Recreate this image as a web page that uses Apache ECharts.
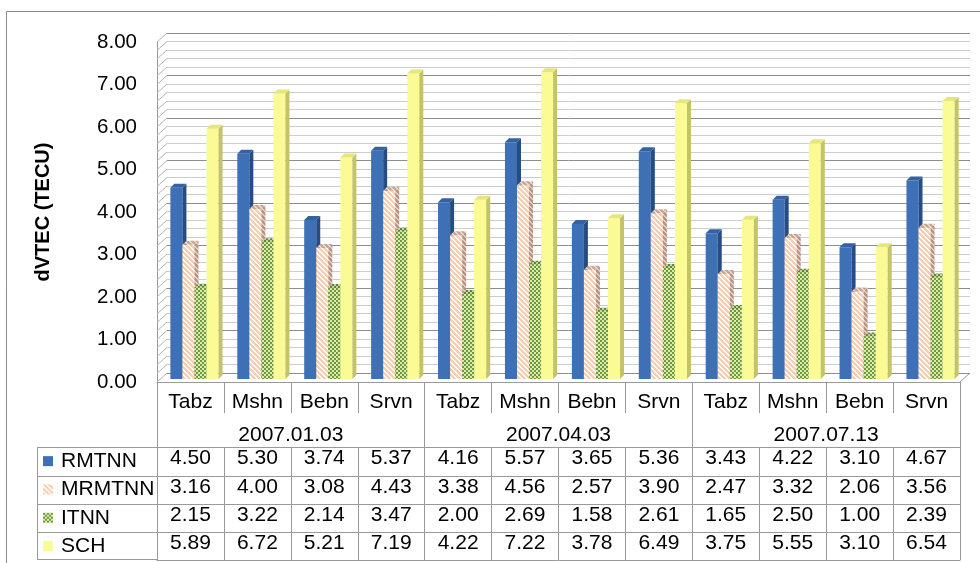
<!DOCTYPE html>
<html>
<head>
<meta charset="utf-8">
<script src="https://cdn.jsdelivr.net/npm/echarts@6/dist/echarts.min.js"></script>
<style>
  html, body { margin: 0; padding: 0; background: #fff; }
  #chart { width: 980px; height: 563px; }
</style>
</head>
<body>
<div id="chart"></div>
<script>
// Stations per observation day, and the day labels
const stations = ['Tabz', 'Mshn', 'Bebn', 'Srvn', 'Tabz', 'Mshn', 'Bebn', 'Srvn', 'Tabz', 'Mshn', 'Bebn', 'Srvn'];
const dates = ['2007.01.03', '2007.04.03', '2007.07.13'];
const seriesNames = ['RMTNN', 'MRMTNN', 'ITNN', 'SCH'];

// dVTEC values (TECU) per model
const rmtnn  = [4.50, 5.30, 3.74, 5.37, 4.16, 5.57, 3.65, 5.36, 3.43, 4.22, 3.10, 4.67];
const mrmtnn = [3.16, 4.00, 3.08, 4.43, 3.38, 4.56, 2.57, 3.90, 2.47, 3.32, 2.06, 3.56];
const itnn   = [2.15, 3.22, 2.14, 3.47, 2.00, 2.69, 1.58, 2.61, 1.65, 2.50, 1.00, 2.39];
const sch    = [5.89, 6.72, 5.21, 7.19, 4.22, 7.22, 3.78, 6.49, 3.75, 5.55, 3.10, 6.54];
const allValues = [rmtnn, mrmtnn, itnn, sch];

const FONT = "'Liberation Sans', Arial, Helvetica, sans-serif";
const LINE = '#9a9a9a';
const TABLE_FS = 21;

// Depth of the pseudo-3D box and of the columns
const DEPTH_X = 10, DEPTH_Y = -9;
const BAR_OX = 4, BAR_OY = -3, BAR_D = 4;

// Build a repeating fill from a per-pixel colour function
function hexToRgb(h) {
  const n = parseInt(h.slice(1), 16);
  return [(n >> 16) & 255, (n >> 8) & 255, n & 255];
}
function makePattern(w, h, fn) {
  const cv = document.createElement('canvas');
  cv.width = w; cv.height = h;
  const ctx = cv.getContext('2d');
  const img = ctx.createImageData(w, h);
  for (let y = 0; y < h; y++) {
    for (let x = 0; x < w; x++) {
      const c = hexToRgb(fn(x, y));
      const i = (y * w + x) * 4;
      img.data[i] = c[0]; img.data[i + 1] = c[1]; img.data[i + 2] = c[2]; img.data[i + 3] = 255;
    }
  }
  ctx.putImageData(img, 0, 0);
  return { image: cv, repeat: 'repeat' };
}
const stripes = (fg, bg) => makePattern(5, 5, (x, y) => ((x - y + 50) % 5 < 3 ? fg : bg));
const checker = (a, b) => makePattern(4, 4, (x, y) => (((x >> 1) + (y >> 1)) % 2 === 0 ? a : b));

// Face fills for each model: front, right side, top
const faces = [
  { front: '#3E70B6', side: '#254C84', top: '#3461A2' },
  { front: stripes('#F8CDB0', '#FFFFFF'), side: stripes('#B89282', '#E2CCC0'), top: stripes('#C9A595', '#EAD8CE') },
  { front: checker('#6F9A3A', '#DCEAB2'), side: checker('#4D6C28', '#A8BE7C'), top: checker('#5F8631', '#C2D699') },
  { front: '#FBFB95', side: '#C3C36A', top: '#E6E680' }
];

function barRenderer(k) {
  const f = faces[k];
  return function (params, api) {
    const c = api.value(0), v = api.value(1);
    const base = api.coord([c, 0]);
    const top = api.coord([c, v]);
    const band = api.size([1, 0])[0];
    const bw = band * 0.18;
    const x0 = base[0] - 2 * bw + k * bw + BAR_OX;
    const yb = base[1] + BAR_OY, yt = top[1] + BAR_OY;
    return {
      type: 'group',
      children: [
        { type: 'rect', shape: { x: x0, y: yt, width: bw, height: yb - yt }, style: { fill: f.front } },
        { type: 'polygon', shape: { points: [[x0 + bw, yt], [x0 + bw + BAR_D, yt - BAR_D], [x0 + bw + BAR_D, yb - BAR_D], [x0 + bw, yb]] }, style: { fill: f.side } },
        { type: 'polygon', shape: { points: [[x0, yt], [x0 + BAR_D, yt - BAR_D], [x0 + bw + BAR_D, yt - BAR_D], [x0 + bw, yt]] }, style: { fill: f.top } }
      ]
    };
  };
}

// Left side wall and floor edges of the box
function frameRenderer(params, api) {
  const band = api.size([1, 0])[0];
  const left = api.coord([0, 0])[0] - band / 2;
  const right = api.coord([stations.length - 1, 0])[0] + band / 2;
  const children = [];
  for (let i = 0; i <= 40; i++) {
    const y = api.coord([0, i * 0.2])[1];
    children.push({ type: 'line', shape: { x1: left, y1: y, x2: left + DEPTH_X, y2: y + DEPTH_Y }, style: { stroke: '#b4b4b4', lineWidth: 1 } });
  }
  const y0 = api.coord([0, 0])[1];
  children.push({ type: 'line', shape: { x1: right, y1: y0, x2: right + DEPTH_X, y2: y0 + DEPTH_Y }, style: { stroke: LINE, lineWidth: 1 } });
  return { type: 'group', children };
}

function rowAxis(values, offset, withTicks) {
  return {
    gridIndex: 0, type: 'category', data: stations, position: 'bottom', offset,
    axisLine: { show: true, lineStyle: { color: LINE, width: 1 } },
    axisTick: { show: withTicks, length: 113, interval: 0, lineStyle: { color: LINE } },
    axisLabel: { interval: 0, margin: 1, fontSize: TABLE_FS, color: '#000', fontFamily: FONT,
      formatter: (val, idx) => values[idx].toFixed(2) }
  };
}

const chart = echarts.init(document.getElementById('chart'));
chart.setOption({
  animation: false,
  backgroundColor: '#fff',
  grid: [
    { left: 157, right: 20, top: 42, bottom: 181 },
    { left: 157 + DEPTH_X, right: 20 - DEPTH_X, top: 42 + DEPTH_Y, bottom: 181 - DEPTH_Y }
  ],
  xAxis: [
    {
      gridIndex: 0, type: 'category', data: stations,
      axisLine: { show: true, lineStyle: { color: LINE } },
      axisTick: { show: true, length: 31, interval: 0, lineStyle: { color: LINE } },
      axisLabel: { interval: 0, margin: 10, fontSize: TABLE_FS, color: '#000', fontFamily: FONT }
    },
    {
      gridIndex: 0, type: 'category', data: dates, position: 'bottom',
      axisLine: { show: false },
      axisTick: { show: true, length: 178, interval: 0, lineStyle: { color: LINE } },
      axisLabel: { interval: 0, margin: 43, fontSize: TABLE_FS, color: '#000', fontFamily: FONT }
    },
    rowAxis(rmtnn, 65, true),
    rowAxis(mrmtnn, 94, false),
    rowAxis(itnn, 122, false),
    rowAxis(sch, 150, false),
    {
      gridIndex: 0, type: 'category', data: stations, position: 'bottom', offset: 178,
      axisLine: { show: true, lineStyle: { color: LINE } },
      axisTick: { show: false }, axisLabel: { show: false }
    },
    { gridIndex: 1, type: 'value', min: 0, max: 1, show: false }
  ],
  yAxis: [
    {
      gridIndex: 0, type: 'value', min: 0, max: 8, interval: 1,
      name: 'dVTEC (TECU)', nameLocation: 'middle', nameGap: 104, nameRotate: 90,
      nameTextStyle: { fontSize: 20, fontWeight: 'bold', color: '#000', fontFamily: FONT },
      axisLine: { show: true, lineStyle: { color: LINE } },
      axisTick: { show: false },
      splitLine: { show: false },
      axisLabel: { margin: 20, fontSize: 20.5, color: '#000', fontFamily: FONT, formatter: v => v.toFixed(2) }
    },
    {
      gridIndex: 1, type: 'value', min: 0, max: 8, interval: 1,
      axisLine: { show: false }, axisTick: { show: false }, axisLabel: { show: false },
      splitLine: { show: true, lineStyle: { color: '#8e8e8e', width: 1 } },
      minorTick: { show: false, splitNumber: 5 },
      minorSplitLine: { show: true, lineStyle: { color: '#cdcdcd', width: 1 } }
    }
  ],
  legend: {
    orient: 'vertical', left: 43, top: 447, padding: 0,
    itemWidth: 10, itemHeight: 10, itemGap: 0, icon: 'rect', selectedMode: false,
    textStyle: { fontSize: TABLE_FS, color: '#000', fontFamily: FONT, lineHeight: 28.3, padding: [0, 0, 0, 3] },
    data: seriesNames
  },
  graphic: [
    { type: 'rect', silent: true, shape: { x: 6.5, y: 11.5, width: 1000, height: 700 }, style: { fill: null, stroke: '#8c8c8c', lineWidth: 1 } },
    { type: 'line', silent: true, shape: { x1: 37.5, y1: 447, x2: 37.5, y2: 560 }, style: { stroke: LINE } },
    { type: 'line', silent: true, shape: { x1: 37, y1: 447.5, x2: 157, y2: 447.5 }, style: { stroke: LINE } },
    { type: 'line', silent: true, shape: { x1: 37, y1: 476.5, x2: 157, y2: 476.5 }, style: { stroke: LINE } },
    { type: 'line', silent: true, shape: { x1: 37, y1: 504.5, x2: 157, y2: 504.5 }, style: { stroke: LINE } },
    { type: 'line', silent: true, shape: { x1: 37, y1: 532.5, x2: 157, y2: 532.5 }, style: { stroke: LINE } },
    { type: 'line', silent: true, shape: { x1: 37, y1: 559.5, x2: 157, y2: 559.5 }, style: { stroke: LINE } }
  ],
  series: [
    { type: 'custom', name: 'frame', xAxisIndex: 0, yAxisIndex: 0, silent: true, clip: false, z: 1,
      data: [[0, 0]], renderItem: frameRenderer }
  ].concat(seriesNames.map((name, k) => ({
    type: 'custom', name, xAxisIndex: 0, yAxisIndex: 0, clip: false, z: 3,
    itemStyle: { color: faces[k].front },
    data: allValues[k].map((v, i) => [i, v]),
    renderItem: barRenderer(k)
  })))
});
</script>
</body>
</html>
